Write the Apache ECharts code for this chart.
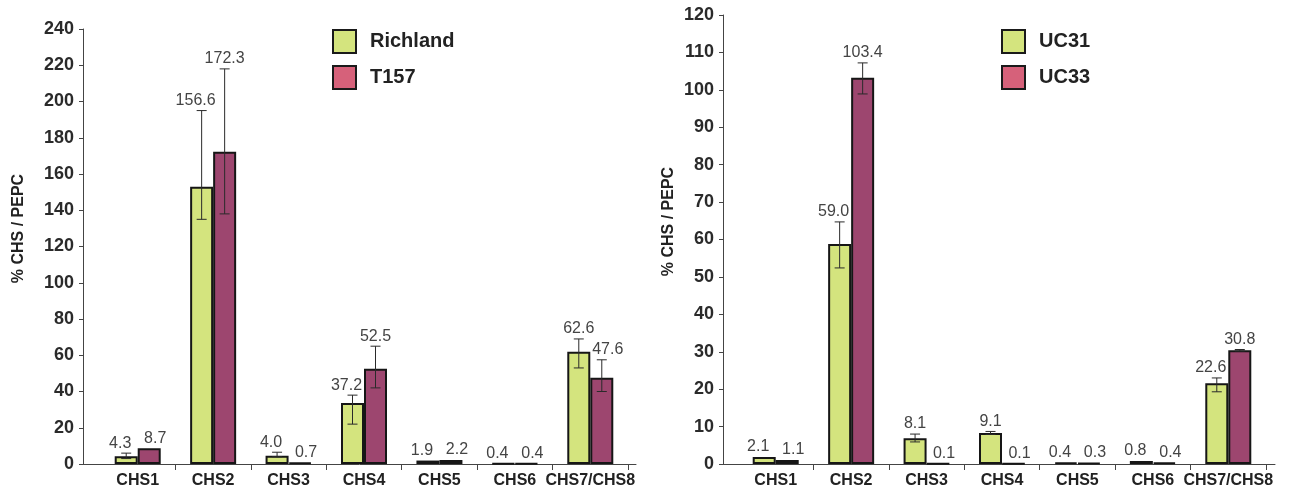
<!DOCTYPE html>
<html>
<head>
<meta charset="utf-8">
<script src="https://cdn.jsdelivr.net/npm/echarts@6/dist/echarts.min.js"></script>
<style>
  html, body { margin: 0; padding: 0; background: #fff; }
  #chart { width: 1293px; height: 491px; }
</style>
</head>
<body>
<div id="chart"></div>
<script>
// ---- data ----
const categories = ['CHS1', 'CHS2', 'CHS3', 'CHS4', 'CHS5', 'CHS6', 'CHS7/CHS8'];

// left panel
const leftYTicks = { min: 0, max: 240, interval: 20 };
const richlandBar   = [4.3, 153, 4.5, 33.7, 1.9, 0.4, 62];
const richlandLabel = ['4.3', '156.6', '4.0', '37.2', '1.9', '0.4', '62.6'];
const richlandErr   = [[3, 6], [135, 195], [4, 6.5], [22, 38], null, null, [53, 69]];
const t157Bar       = [8.7, 172.3, 0.7, 52.5, 2.2, 0.4, 47.6];
const t157Label     = ['8.7', '172.3', '0.7', '52.5', '2.2', '0.4', '47.6'];
const t157Err       = [null, [138, 218], null, [42, 65], null, null, [40, 57.5]];

// right panel
const rightYTicks = { min: 0, max: 120, interval: 10 };
const uc31Bar   = [1.9, 58.8, 6.9, 8.3, 0.4, 0.8, 21.6];
const uc31Label = ['2.1', '59.0', '8.1', '9.1', '0.4', '0.8', '22.6'];
const uc31Err   = [null, [52.4, 64.7], [5.9, 8.0], [7.9, 8.7], null, null, [19.3, 23]];
const uc33Bar   = [1.1, 103.2, 0.1, 0.1, 0.3, 0.4, 30.4];
const uc33Label = ['1.1', '103.4', '0.1', '0.1', '0.3', '0.4', '30.8'];
const uc33Err   = [null, [98.9, 107.2], null, null, null, null, [30.2, 30.6]];

const yName = '% CHS / PEPC';

// ---- style ----
const FONT = '"Liberation Sans", Arial, Helvetica, sans-serif';
const GREEN = '#d4e47e';
const PURPLE = '#9d466f';
const PINK = '#d6617a';
const BAR_W = 23;

function topOf(bars, errs, i) {
  return errs[i] ? Math.max(bars[i], errs[i][1]) : bars[i];
}

function errSeries(name, bars, errs, labels, pBars, pErrs, side, gi) {
  return {
    type: 'custom',
    name: name,
    xAxisIndex: gi, yAxisIndex: gi,
    z: 5,
    silent: true,
    data: bars.map((v, i) => [i, v]),
    encode: { x: 0, y: 1 },
    renderItem: function (params, api) {
      const i = params.dataIndex;
      const base = api.coord([i, 0]);
      const x = base[0] + side * BAR_W / 2;
      const e = errs[i];
      const children = [];
      const ls = { stroke: '#2a2a2a', lineWidth: 1 };
      if (e) {
        const yl = api.coord([i, e[0]])[1];
        const yh = api.coord([i, e[1]])[1];
        children.push({ type: 'line', shape: { x1: x, y1: yl, x2: x, y2: yh }, style: ls });
        children.push({ type: 'line', shape: { x1: x - 5, y1: yl, x2: x + 5, y2: yl }, style: ls });
        children.push({ type: 'line', shape: { x1: x - 5, y1: yh, x2: x + 5, y2: yh }, style: ls });
      }
      const ownY = api.coord([i, topOf(bars, errs, i)])[1];
      const partY = api.coord([i, topOf(pBars, pErrs, i)])[1];
      // move the label outward when the neighbouring bar would collide with it
      const dx = partY < ownY + 14 ? side * 6 : 0;
      children.push({
        type: 'text',
        style: {
          text: labels[i], x: x + dx, y: ownY - 2,
          align: 'center', verticalAlign: 'bottom',
          fill: '#444', fontSize: 16, fontFamily: FONT
        }
      });
      return { type: 'group', children: children };
    }
  };
}

function barSeries(name, data, color, gi) {
  return {
    type: 'bar', name: name, data: data,
    xAxisIndex: gi, yAxisIndex: gi,
    barWidth: BAR_W, barGap: '0%',
    itemStyle: { color: color, borderColor: '#161616', borderWidth: 2 },
    emphasis: { disabled: true },
    z: 2
  };
}

// data axes (bars live here)
function xAxisData(gi) {
  return {
    type: 'category', gridIndex: gi, data: categories,
    axisLine: { show: false },
    axisTick: { show: true, length: 6, lineStyle: { color: '#444' }, interval: function (idx) { return idx !== 0; } },
    axisLabel: { fontFamily: FONT, fontWeight: 'bold', fontSize: 16, color: '#222', margin: 9, interval: 0 }
  };
}
function yAxisData(gi, t) {
  return { type: 'value', gridIndex: gi, min: t.min, max: t.max, interval: t.interval, show: false };
}
// frame axes (visible axis lines, y labels, y name)
function xAxisFrame(gi) {
  return {
    type: 'category', gridIndex: gi, data: [''],
    axisLine: { show: true, lineStyle: { color: '#444', width: 1 } },
    axisTick: { show: false }, axisLabel: { show: false }, splitLine: { show: false }
  };
}
function yAxisFrame(gi, t, gap) {
  return {
    type: 'value', gridIndex: gi, min: t.min, max: t.max, interval: t.interval,
    name: yName, nameLocation: 'middle', nameGap: gap,
    nameTextStyle: { fontFamily: FONT, fontWeight: 'bold', fontSize: 16, color: '#222', padding: [0, 0, 0, 36] },
    axisLine: { show: true, lineStyle: { color: '#444', width: 1 } },
    axisTick: { show: true, length: 4, lineStyle: { color: '#444' } },
    splitLine: { show: false },
    axisLabel: { fontFamily: FONT, fontWeight: 'bold', fontSize: 18, color: '#2a2a2a', margin: 9 }
  };
}

function legend(left, names, colors) {
  return {
    orient: 'vertical', left: left, top: 29, padding: 0,
    itemWidth: 23, itemHeight: 23, itemGap: 11, icon: 'rect',
    selectedMode: false,
    textStyle: { fontFamily: FONT, fontWeight: 'bold', fontSize: 20, color: '#222', padding: [0, 0, 0, 9] },
    data: names.map((n, k) => ({ name: n, itemStyle: { color: colors[k], borderColor: '#1a1a1a', borderWidth: 2 } }))
  };
}

const chart = echarts.init(document.getElementById('chart'), null, { renderer: 'canvas' });
chart.setOption({
  animation: false,
  backgroundColor: '#fff',
  grid: [
    { left: 100, top: 29, width: 528, height: 435 },   // 0 left data
    { left: 738, top: 15, width: 528, height: 449 },   // 1 right data
    { left: 83, top: 29, width: 553, height: 435 },    // 2 left frame
    { left: 723, top: 15, width: 552, height: 449 }    // 3 right frame
  ],
  legend: [
    legend(332, ['Richland', 'T157'], [GREEN, PINK]),
    legend(1001, ['UC31', 'UC33'], [GREEN, PINK])
  ],
  xAxis: [xAxisData(0), xAxisData(1), xAxisFrame(2), xAxisFrame(3)],
  yAxis: [yAxisData(0, leftYTicks), yAxisData(1, rightYTicks), yAxisFrame(2, leftYTicks, 56), yAxisFrame(3, rightYTicks, 46)],
  series: [
    barSeries('Richland', richlandBar, GREEN, 0),
    barSeries('T157', t157Bar, PURPLE, 0),
    barSeries('UC31', uc31Bar, GREEN, 1),
    barSeries('UC33', uc33Bar, PURPLE, 1),
    errSeries('Richland', richlandBar, richlandErr, richlandLabel, t157Bar, t157Err, -1, 0),
    errSeries('T157', t157Bar, t157Err, t157Label, richlandBar, richlandErr, 1, 0),
    errSeries('UC31', uc31Bar, uc31Err, uc31Label, uc33Bar, uc33Err, -1, 1),
    errSeries('UC33', uc33Bar, uc33Err, uc33Label, uc31Bar, uc31Err, 1, 1)
  ]
});
</script>
</body>
</html>
